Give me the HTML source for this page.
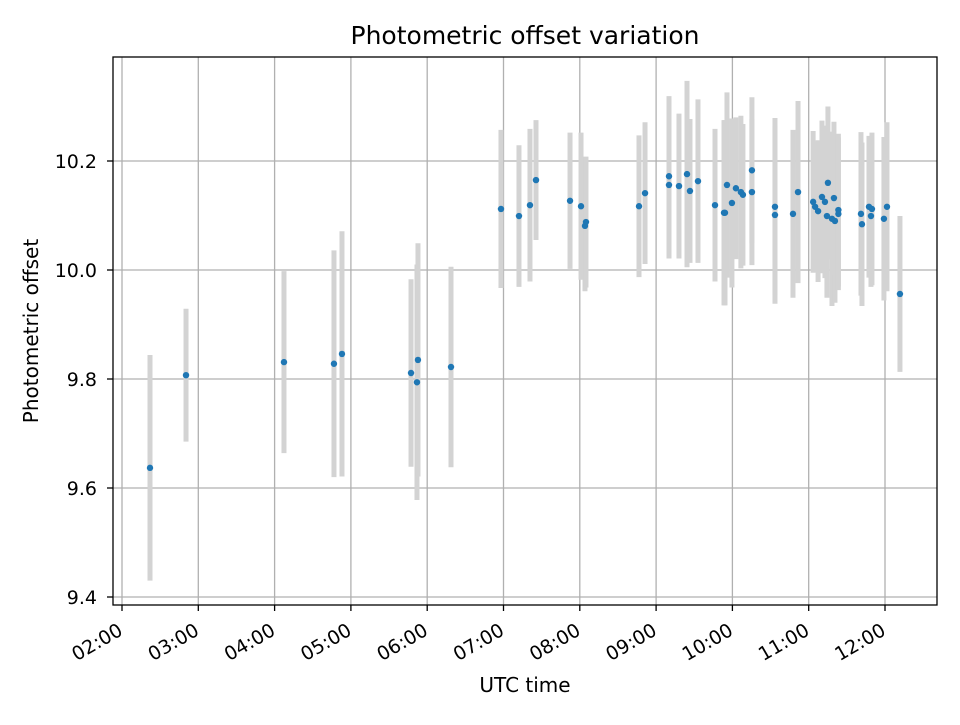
<!DOCTYPE html>
<html><head><meta charset="utf-8"><style>
body{margin:0;background:#fff}
svg text{font-family:"DejaVu Sans","Liberation Sans",sans-serif;fill:#000}
</style></head><body>
<svg id="chart" width="960" height="720" xmlns="http://www.w3.org/2000/svg">
<rect width="960" height="720" fill="#fff"/>
<g id="grid"></g>
<g id="errs"></g>
<g id="pts"></g>
<rect x="113" y="57" width="824" height="548" fill="none" stroke="#000" stroke-width="1.3"/>
<g id="axes"></g>
<text x="525" y="44" font-size="25" text-anchor="middle">Photometric offset variation</text>
<text x="525" y="692" font-size="20" text-anchor="middle">UTC time</text>
<text transform="translate(38,331) rotate(-90)" font-size="20" text-anchor="middle">Photometric offset</text>
</svg>
<script>
const times=[2.367,2.839,4.123,4.778,4.883,5.788,5.866,5.879,6.312,6.967,7.203,7.347,7.426,7.872,8.016,8.068,8.081,8.776,8.855,9.169,9.169,9.300,9.405,9.444,9.549,9.772,9.890,9.903,9.929,9.994,10.046,10.111,10.138,10.256,10.256,10.558,10.558,10.794,10.860,11.058,11.084,11.123,11.174,11.213,11.252,11.239,11.305,11.344,11.331,11.389,11.389,11.685,11.698,11.790,11.829,11.816,11.986,12.026,12.196];
const values=[9.637,9.807,9.831,9.828,9.846,9.811,9.794,9.835,9.822,10.112,10.099,10.119,10.165,10.127,10.117,10.081,10.088,10.117,10.141,10.172,10.156,10.154,10.176,10.145,10.163,10.119,10.105,10.105,10.156,10.123,10.150,10.143,10.138,10.183,10.143,10.116,10.101,10.103,10.143,10.125,10.116,10.108,10.134,10.125,10.160,10.099,10.094,10.090,10.132,10.110,10.103,10.103,10.084,10.116,10.112,10.099,10.094,10.116,9.956];
const errors=[0.207,0.122,0.167,0.208,0.225,0.172,0.216,0.214,0.184,0.145,0.13,0.14,0.11,0.125,0.135,0.12,0.12,0.13,0.13,0.147,0.135,0.133,0.171,0.132,0.15,0.14,0.17,0.17,0.17,0.155,0.13,0.14,0.13,0.134,0.134,0.163,0.163,0.154,0.167,0.13,0.12,0.13,0.14,0.14,0.14,0.15,0.16,0.15,0.14,0.14,0.14,0.15,0.15,0.13,0.14,0.13,0.15,0.155,0.143];
const yTicks=[9.4,9.6,9.8,10.0,10.2];
const yTickLabels=["9.4","9.6","9.8","10.0","10.2"];
const xTicks=[2,3,4,5,6,7,8,9,10,11,12];
const xTickLabels=["02:00","03:00","04:00","05:00","06:00","07:00","08:00","09:00","10:00","11:00","12:00"];
const X=h=>122+(h-2)*76.3;
const Y=v=>161-(v-10.2)*545;
const NS="http://www.w3.org/2000/svg";
function mk(tag,attrs,parent){const e=document.createElementNS(NS,tag);for(const k in attrs)e.setAttribute(k,attrs[k]);parent.appendChild(e);return e;}
const grid=document.getElementById('grid'),axes=document.getElementById('axes'),errs=document.getElementById('errs'),pts=document.getElementById('pts');
xTicks.forEach((t,i)=>{const x=X(t);
 const g=mk('line',{x1:x,x2:x,y1:57,y2:605,stroke:'#b0b0b0','stroke-width':1.3},grid);
 
 
 const tk=mk('line',{x1:x,x2:x,y1:605,y2:611,stroke:'#000','stroke-width':1.3},axes);
 
 
 const tx=mk('text',{transform:`translate(${x+2},${634}) rotate(-30)`,'font-size':19,'text-anchor':'end'},axes);
 tx.textContent=xTickLabels[i];
 
 
});
yTicks.forEach((t,i)=>{const y=Y(t);
 const g=mk('line',{x1:113,x2:937,y1:y,y2:y,stroke:'#b0b0b0','stroke-width':1.3},grid);
 
 
 const tk=mk('line',{x1:107,x2:113,y1:y,y2:y,stroke:'#000','stroke-width':1.3},axes);
 
 
 const tx=mk('text',{x:97,y:y+7,'font-size':19,'text-anchor':'end'},axes);
 tx.textContent=yTickLabels[i];
 
 
});
times.forEach((t,i)=>{const x=X(t);
 const e=mk('line',{x1:x,x2:x,y1:Y(values[i]+errors[i]),y2:Y(values[i]-errors[i]),stroke:'#d3d3d3','stroke-width':5},errs);
 
 
 const c=mk('circle',{cx:x,cy:Y(values[i]),r:3.2,fill:'#1f77b4'},pts);
 
 
});
</script>
</body></html>
